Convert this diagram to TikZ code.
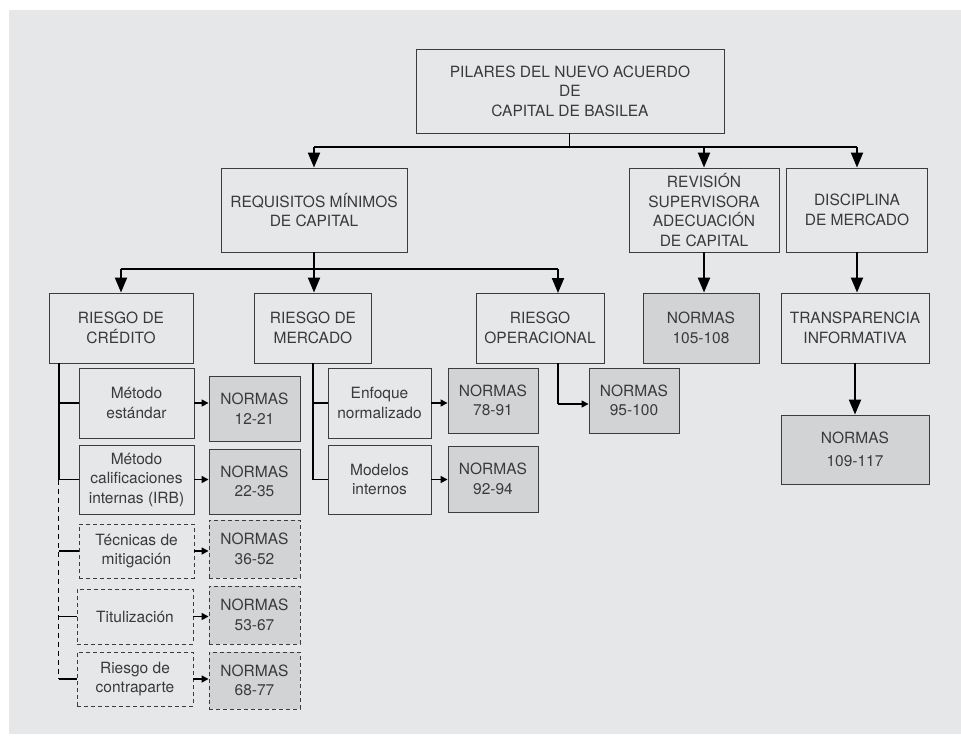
\documentclass[tikz,border=0pt]{standalone}
\usepackage{fontspec}
\setmainfont{TeX Gyre Heros}
\usetikzlibrary{arrows.meta,calc}
\definecolor{bgc}{HTML}{E6E7E9}
\definecolor{normfill}{HTML}{D2D3D5}
\definecolor{edge}{HTML}{3C3C3C}
\definecolor{txt}{HTML}{3A3A3A}
\tikzset{
  box/.style={draw=edge, line width=0.9pt, align=center, inner sep=1pt, text=txt,
    font=\fontsize{15.5}{19.5}\selectfont},
  norm/.style={box, fill=normfill},
  dbox/.style={box, dashed, dash pattern=on 4pt off 3pt},
  dnorm/.style={norm, dashed, dash pattern=on 4pt off 3pt},
  bigarrow/.style={draw=black, line width=2pt, -{Triangle[length=15pt,width=12pt]}},
  thickline/.style={draw=black, line width=2pt},
  medline/.style={draw=black, line width=1.4pt},
  thinline/.style={draw=black, line width=1pt},
  smallarrow/.style={draw=black, line width=1.5pt, -{Triangle[length=7pt,width=7pt]}},
  dline/.style={draw=black, line width=1.5pt, dash pattern=on 5pt off 4pt},
}
\begin{document}
\begin{tikzpicture}[x=1pt,y=-1pt]
\useasboundingbox (0,0) rectangle (961,740);
\fill[bgc] (9,10) rectangle (961,734);

% top level
\node[box, minimum width=308pt, minimum height=84pt] (top) at (570,91) {PILARES DEL NUEVO ACUERDO\\DE\\CAPITAL DE BASILEA};
\node[box, minimum width=186pt, minimum height=84pt] (req) at (314,210) {REQUISITOS MÍNIMOS\\DE CAPITAL};
\node[box, minimum width=150pt, minimum height=84pt] (rev) at (704,210) {REVISIÓN\\SUPERVISORA\\ADECUACIÓN\\DE CAPITAL};
\node[box, minimum width=141pt, minimum height=84pt] (dis) at (857,210) {DISCIPLINA\\DE MERCADO};

% second level
\node[box, minimum width=144pt, minimum height=70pt] (cred) at (121,328) {RIESGO DE\\CRÉDITO};
\node[box, minimum width=117pt, minimum height=70pt] (merc) at (313,328) {RIESGO DE\\MERCADO};
\node[box, minimum width=128pt, minimum height=70pt] (oper) at (540,328) {RIESGO\\OPERACIONAL};
\node[norm, minimum width=116pt, minimum height=70pt] (n105) at (701,328) {NORMAS\\105-108};
\node[box, minimum width=148pt, minimum height=70pt] (trans) at (855,328) {TRANSPARENCIA\\INFORMATIVA};
\node[norm, minimum width=148pt, minimum height=69pt, font=\fontsize{15.5}{22.5}\selectfont] (n109) at (855,449.5) {NORMAS\\109-117};

% credit column
\node[box, minimum width=115pt, minimum height=70pt] (me) at (136.5,403) {Método\\estándar};
\node[norm, minimum width=91pt, minimum height=65pt] (n12) at (254.5,408.5) {NORMAS\\12-21};
\node[box, minimum width=115pt, minimum height=69pt] (mc) at (136.5,479.5) {Método\\calificaciones\\internas (IRB)};
\node[norm, minimum width=91pt, minimum height=65pt] (n22) at (254.5,481.5) {NORMAS\\22-35};
\node[dbox, minimum width=115pt, minimum height=54pt] (tm) at (136.5,551) {Técnicas de\\mitigación};
\node[dnorm, minimum width=91pt, minimum height=58pt] (n36) at (254.5,549) {NORMAS\\36-52};
\node[dbox, minimum width=116pt, minimum height=55pt] (tit) at (135,616.5) {Titulización};
\node[dnorm, minimum width=91pt, minimum height=58pt] (n53) at (254.5,615) {NORMAS\\53-67};
\node[dbox, minimum width=116pt, minimum height=54pt] (rc) at (135,679) {Riesgo de\\contraparte};
\node[dnorm, minimum width=91pt, minimum height=57pt] (n68) at (254.5,680.5) {NORMAS\\68-77};

% market column
\node[box, minimum width=103pt, minimum height=70pt] (en) at (379.5,403) {Enfoque\\normalizado};
\node[norm, minimum width=90pt, minimum height=65pt] (n78) at (493,400.5) {NORMAS\\78-91};
\node[box, minimum width=103pt, minimum height=69pt] (mi) at (379.5,479.5) {Modelos\\internos};
\node[norm, minimum width=90pt, minimum height=66pt] (n92) at (493,479) {NORMAS\\92-94};

% operational
\node[norm, minimum width=90pt, minimum height=65pt] (n95) at (634,400.5) {NORMAS\\95-100};

% connectors: top level
\coordinate (b1) at (569,147);
\draw[thinline] (top.south -| b1) -- (b1);
\draw[thickline] (b1 -| req.north) -- (b1 -| dis.north);
\draw[bigarrow] (b1 -| req.north) -- (req.north);
\draw[bigarrow] (b1 -| rev.north) -- (rev.north);
\draw[bigarrow] (b1 -| dis.north) -- (dis.north);

% connectors: second level
\coordinate (b2) at (314,269);
\coordinate (opin) at (558,293);
\draw[thickline] (req.south) -- (b2);
\draw[thickline] (b2 -| cred.north) -- (b2 -| opin);
\draw[bigarrow] (b2 -| cred.north) -- (cred.north);
\draw[bigarrow] (b2) -- (b2 |- merc.north);
\draw[bigarrow] (b2 -| opin) -- (opin);
\draw[bigarrow] (rev.south) -- (rev.south |- n105.north);
\draw[bigarrow] (dis.south) -- (dis.south |- trans.north);
\draw[bigarrow] (trans.south) -- (n109.north);

% credit branch
\coordinate (cv) at ($(cred.south west)+(10,0)$);
\draw[thickline] (cv) -- (cv |- mc.west);
\draw[dline] (cv |- mc.west) -- (cv |- rc.west);
\draw[medline] (cv |- me.west) -- (me.west);
\draw[medline] (cv |- mc.west) -- (mc.west);
\draw[medline] (cv |- tm.west) -- (tm.west);
\draw[medline] (cv |- tit.west) -- (tit.west);
\draw[medline] (cv |- rc.west) -- (rc.west);
\draw[smallarrow] (me.east) -- (me.east -| n12.west);
\draw[smallarrow] (mc.east) -- (mc.east -| n22.west);
\draw[smallarrow] (tm.east) -- (tm.east -| n36.west);
\draw[smallarrow] (tit.east) -- (tit.east -| n53.west);
\draw[smallarrow] (rc.east) -- (rc.east -| n68.west);

% market branch
\draw[medline] (merc.south) |- (mi.west);
\draw[medline] (merc.south |- en.west) -- (en.west);
\draw[smallarrow] (en.east) -- (en.east -| n78.west);
\draw[smallarrow] (mi.east) -- (mi.east -| n92.west);

% operational branch
\coordinate (opout) at (558,404);
\draw[medline] (oper.south -| opin) -- (opout);
\draw[smallarrow] (opout) -- (opout -| n95.west);
\end{tikzpicture}
\end{document}
